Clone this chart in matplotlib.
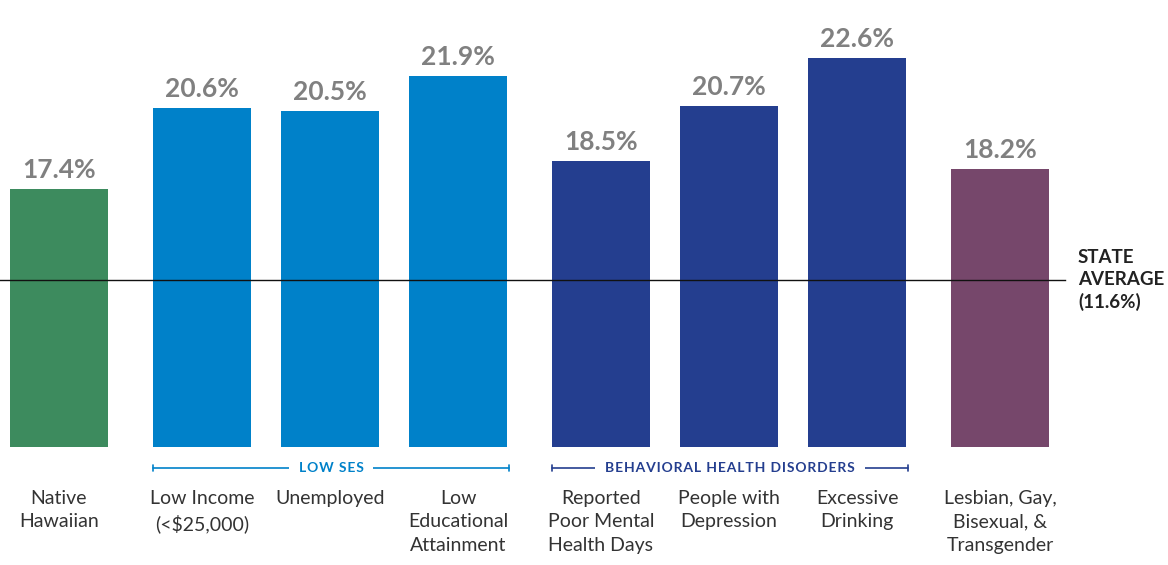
import matplotlib
matplotlib.use("Agg")
from matplotlib import pyplot as plt
import numpy as np

plt.rcParams['font.family'] = ['Lato', 'DejaVu Sans']

categories = ['Native\nHawaiian', 'Low Income\n(<$25,000)', 'Unemployed',
              'Low\nEducational\nAttainment', 'Reported\nPoor Mental\nHealth Days',
              'People with\nDepression', 'Excessive\nDrinking',
              'Lesbian, Gay,\nBisexual, &\nTransgender']
values = [17.4, 20.6, 20.5, 21.9, 18.5, 20.7, 22.6, 18.2]
groups = [0, 1, 1, 1, 2, 2, 2, 3]
state_avg = 11.6
group_names = {1: 'LOW SES', 2: 'BEHAVIORAL HEALTH DISORDERS'}

colors = {0: '#3d8b5e', 1: '#0081c9', 2: '#243e8f', 3: '#76476b'}

# the original infographic is not drawn to scale: axis is cut at ~7.1
# and the average line sits higher than 11.6 would be
y_bottom = 7.14
y_top = 24.91
avg_line_y = 13.78

gap = 15 / 128
width = 98 / 128
x = np.arange(len(values)) + np.array(groups) * gap

fig = plt.figure(figsize=(11.68, 5.65), dpi=100)
ax = fig.add_axes([0, 1 - 447 / 565, 1, 447 / 565])
ax.set_xlim(-59 / 128, -59 / 128 + 1168 / 128)
ax.set_ylim(y_bottom, y_top)
ax.axis('off')

ax.bar(x, values, width=width, color=[colors[g] for g in groups], zorder=2)

for xi, v in zip(x, values):
    ax.annotate(f'{v}%', (xi, v), xytext=(0, 5), textcoords='offset points',
                ha='center', va='bottom', fontsize=19, fontweight='bold',
                color='#808080')

# state average line
ax.axhline(avg_line_y, xmin=0, xmax=1065 / 1168, color='#111111', lw=1, zorder=3)
ax.text(1078 / 1168, avg_line_y, f'STATE\nAVERAGE\n({state_avg}%)',
        transform=ax.get_yaxis_transform(), ha='left', va='center',
        fontsize=13.5, fontweight='bold', color='#222222', linespacing=1.35)

trans = ax.get_xaxis_transform()

# category labels
for xi, lab in zip(x, categories):
    ax.text(xi, -43 / 447, lab, transform=trans, ha='center', va='top',
            fontsize=14, color='#333333', linespacing=1.45)

# group brackets
for g, name in group_names.items():
    idx = [i for i, gg in enumerate(groups) if gg == g]
    x0 = x[idx[0]] - width / 2
    x1 = x[idx[-1]] + width / 2 + 2 / 128
    ax.annotate('', xy=(x0, -21 / 447), xytext=(x1, -21 / 447), xycoords=trans,
                arrowprops=dict(arrowstyle='|-|,widthA=0.25,widthB=0.25',
                                color=colors[g], lw=1.2, shrinkA=0, shrinkB=0))
    spaced = '\u200a'.join(name)
    ax.text((x0 + x1) / 2, -21 / 447, spaced, transform=trans, ha='center',
            va='center', fontsize=10, fontweight='bold', color=colors[g],
            bbox=dict(facecolor='white', edgecolor='none', pad=7))

fig.savefig('out.png', dpi=100)
